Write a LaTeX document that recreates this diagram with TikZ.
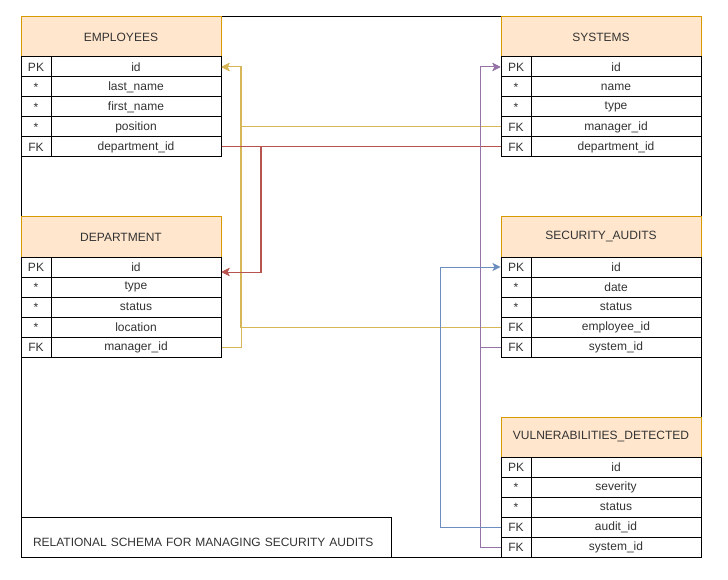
\documentclass[tikz,border=0pt]{standalone}
\usepackage{fontspec}
\setmainfont{Liberation Sans}
\usetikzlibrary{arrows.meta}
\definecolor{orangefond}{HTML}{FFE6CC}
\definecolor{orangebord}{HTML}{D79B00}
\definecolor{jaunelien}{HTML}{D6B656}
\definecolor{rougelien}{HTML}{B85450}
\definecolor{violetlien}{HTML}{9673A6}
\definecolor{bleulien}{HTML}{6C8EBF}

\begin{document}
\begin{tikzpicture}[x=1pt,y=-1pt]
\tikzset{entete/.style={draw=orangebord, fill=orangefond, line width=1pt, minimum width=200pt, minimum height=40pt, text=black!80, font=\fontsize{12pt}{14pt}\selectfont},
cle/.style={draw, fill=white, line width=1pt, minimum width=30pt, minimum height=20pt, inner sep=0pt, text=black!80, font=\fontsize{12pt}{14pt}\selectfont},
champ/.style={cle, minimum width=170pt},
lien/.style={line width=1pt},
fleche/.style={lien, -{Stealth[length=8pt,width=8pt,inset=2pt]}}}
\useasboundingbox (0,0) rectangle (728,580);
\node[draw, line width=1pt, minimum width=680pt, minimum height=540pt, inner sep=0pt] (cadre) at (361,287) {};
% EMPLOYEES
\node[entete] (E) at (121,37) {EMPLOYEES};
\node[cle] (Ek1) at (36,67) {PK}; \node[champ] (E1) at (136,67) {id};
\node[cle] (Ek2) at (36,87) {*}; \node[champ] (E2) at (136,87) {last\_name};
\node[cle] (Ek3) at (36,107) {*}; \node[champ] (E3) at (136,107) {first\_name};
\node[cle] (Ek4) at (36,127) {*}; \node[champ] (E4) at (136,127) {position};
\node[cle] (Ek5) at (36,147) {FK}; \node[champ] (E5) at (136,147) {department\_id};
% DEPARTMENT
\node[entete] (D) at (121,237) {DEPARTMENT};
\node[cle] (Dk1) at (36,267) {PK}; \node[champ] (D1) at (136,267) {id};
\node[cle] (Dk2) at (36,287) {*}; \node[champ] (D2) at (136,287) {type};
\node[cle] (Dk3) at (36,307) {*}; \node[champ] (D3) at (136,307) {status};
\node[cle] (Dk4) at (36,327) {*}; \node[champ] (D4) at (136,327) {location};
\node[cle] (Dk5) at (36,347) {FK}; \node[champ] (D5) at (136,347) {manager\_id};
% SYSTEMS
\node[entete] (S) at (601,37) {SYSTEMS};
\node[cle] (Sk1) at (516,67) {PK}; \node[champ] (S1) at (616,67) {id};
\node[cle] (Sk2) at (516,87) {*}; \node[champ] (S2) at (616,87) {name};
\node[cle] (Sk3) at (516,107) {*}; \node[champ] (S3) at (616,107) {type};
\node[cle] (Sk4) at (516,127) {FK}; \node[champ] (S4) at (616,127) {manager\_id};
\node[cle] (Sk5) at (516,147) {FK}; \node[champ] (S5) at (616,147) {department\_id};
% SECURITY_AUDITS
\node[entete] (A) at (601,237) {SECURITY\_AUDITS};
\node[cle] (Ak1) at (516,267) {PK}; \node[champ] (A1) at (616,267) {id};
\node[cle] (Ak2) at (516,287) {*}; \node[champ] (A2) at (616,287) {date};
\node[cle] (Ak3) at (516,307) {*}; \node[champ] (A3) at (616,307) {status};
\node[cle] (Ak4) at (516,327) {FK}; \node[champ] (A4) at (616,327) {employee\_id};
\node[cle] (Ak5) at (516,347) {FK}; \node[champ] (A5) at (616,347) {system\_id};
% VULNERABILITIES_DETECTED
\node[entete] (V) at (601,437) {VULNERABILITIES\_DETECTED};
\node[cle] (Vk1) at (516,467) {PK}; \node[champ] (V1) at (616,467) {id};
\node[cle] (Vk2) at (516,487) {*}; \node[champ] (V2) at (616,487) {severity};
\node[cle] (Vk3) at (516,507) {*}; \node[champ] (V3) at (616,507) {status};
\node[cle] (Vk4) at (516,527) {FK}; \node[champ] (V4) at (616,527) {audit\_id};
\node[cle] (Vk5) at (516,547) {FK}; \node[champ] (V5) at (616,547) {system\_id};
% titre
\node[draw, fill=white, line width=1pt, minimum width=370pt, minimum height=40pt, text width=346pt, inner xsep=12pt, text height=18pt, text depth=0pt, align=left, text=black!80, font=\fontsize{12pt}{14pt}\selectfont] (T) at (206,537) {RELATIONAL SCHEMA FOR MANAGING SECURITY AUDITS};
% liens
\draw[fleche, jaunelien] (Sk4.west) -- ++(-260,0) |- (E1.east);
\draw[fleche, jaunelien] (Ak4.west) -- ++(-260,0) |- (E1.east);
\draw[fleche, jaunelien] (D5.east) -- ++(20,0) |- (E1.east);
\draw[fleche, rougelien] (Sk5.west) -- ++(-240,0) |- ([yshift=-5pt]D1.east);
\draw[fleche, rougelien] (E5.east) -- ++(40,0) |- ([yshift=-5pt]D1.east);
\draw[fleche, violetlien] (Ak5.west) -- ++(-20,0) |- (Sk1.west);
\draw[fleche, violetlien] (Vk5.west) -- ++(-20,0) |- (Sk1.west);
\draw[fleche, bleulien] (Vk4.west) -- ++(-60,0) |- (Ak1.west);
\end{tikzpicture}
\end{document}
